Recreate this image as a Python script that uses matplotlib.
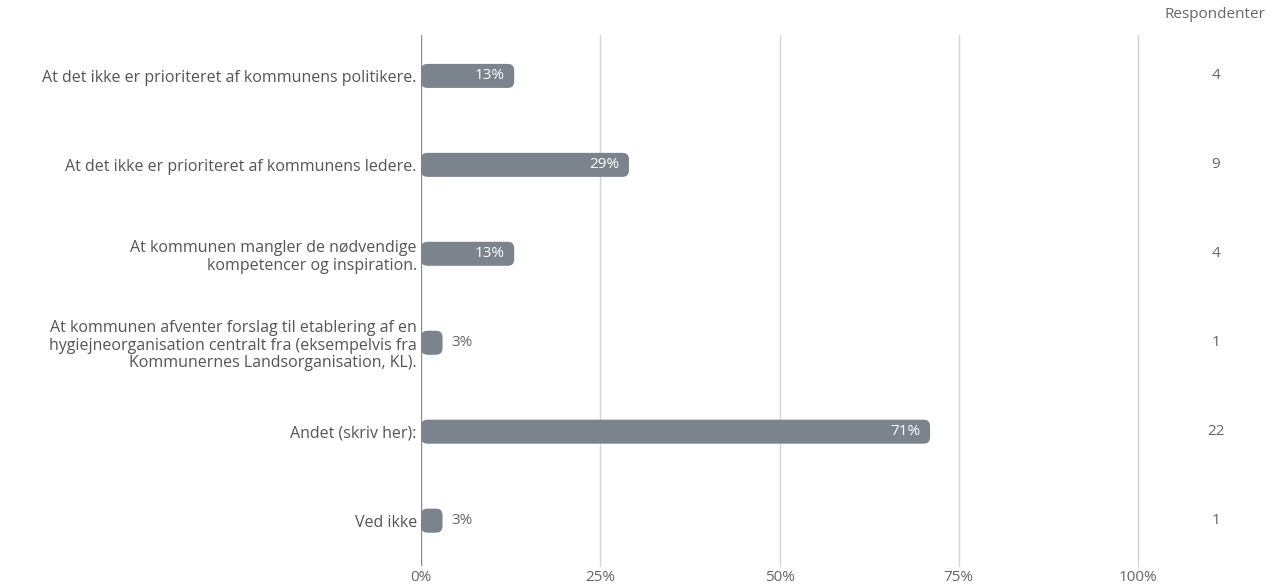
import matplotlib.pyplot as plt
from matplotlib.patches import FancyBboxPatch
from matplotlib.transforms import blended_transform_factory

plt.rcParams['font.family'] = ['Open Sans', 'DejaVu Sans']

categories = [
    "At det ikke er prioriteret af kommunens politikere.",
    "At det ikke er prioriteret af kommunens ledere.",
    "At kommunen mangler de nødvendige\nkompetencer og inspiration.",
    "At kommunen afventer forslag til etablering af en\nhygiejneorganisation centralt fra (eksempelvis fra\nKommunernes Landsorganisation, KL).",
    "Andet (skriv her):",
    "Ved ikke",
]
percent = [13, 29, 13, 3, 71, 3]
respondents = [4, 9, 4, 1, 22, 1]
xticks = [0, 25, 50, 75, 100]

bar_color = '#7b838d'
text_color = '#666666'
fs = 11.5

fig = plt.figure(figsize=(12.72, 5.88), dpi=100)
ax = fig.add_axes([421 / 1272, 1 - 566 / 588, (1138 - 421) / 1272, (566 - 35) / 588])

bar_h = 0.27
for i, v in enumerate(percent):
    box = FancyBboxPatch((0, i - bar_h / 2), v, bar_h,
                         boxstyle="round,pad=0,rounding_size=0.9",
                         mutation_aspect=0.08, fc=bar_color, ec='none', zorder=3)
    ax.add_patch(box)
    if v >= 10:
        ax.text(v - 1.3, i, f"{v}%", ha='right', va='center', color='white',
                fontsize=fs - 0.5, zorder=4)
    else:
        ax.text(v + 1.3, i, f"{v}%", ha='left', va='center', color=text_color,
                fontsize=fs - 0.5, zorder=4)

ax.set_xlim(0, 100)
ax.set_ylim(5.51, -0.46)
ax.set_yticks(range(len(categories)))
ax.set_yticklabels(categories, fontsize=fs, color='#555555', linespacing=1.15)
ax.set_xticks(xticks)
ax.set_xticklabels([f"{t}%" for t in xticks], fontsize=fs - 0.5, color=text_color)
ax.tick_params(length=0)
ax.tick_params(axis='y', pad=3)
ax.tick_params(axis='x', pad=3)
for t in xticks[1:]:
    ax.axvline(t, color='#d6d6d6', lw=1, zorder=1, clip_on=False)
ax.axvline(0, color='#8a8a8a', lw=1, zorder=2)
for s in ax.spines.values():
    s.set_visible(False)

trans = blended_transform_factory(fig.transFigure, ax.transData)
for i, n in enumerate(respondents):
    ax.text(1216 / 1272, i, str(n), transform=trans, ha='center', va='center',
            fontsize=fs - 0.5, color=text_color)
fig.text(1215 / 1272, 1 - 14 / 588, "Respondenter", ha='center', va='center',
         fontsize=fs - 0.5, color=text_color)

fig.savefig('out.png', dpi=100)
